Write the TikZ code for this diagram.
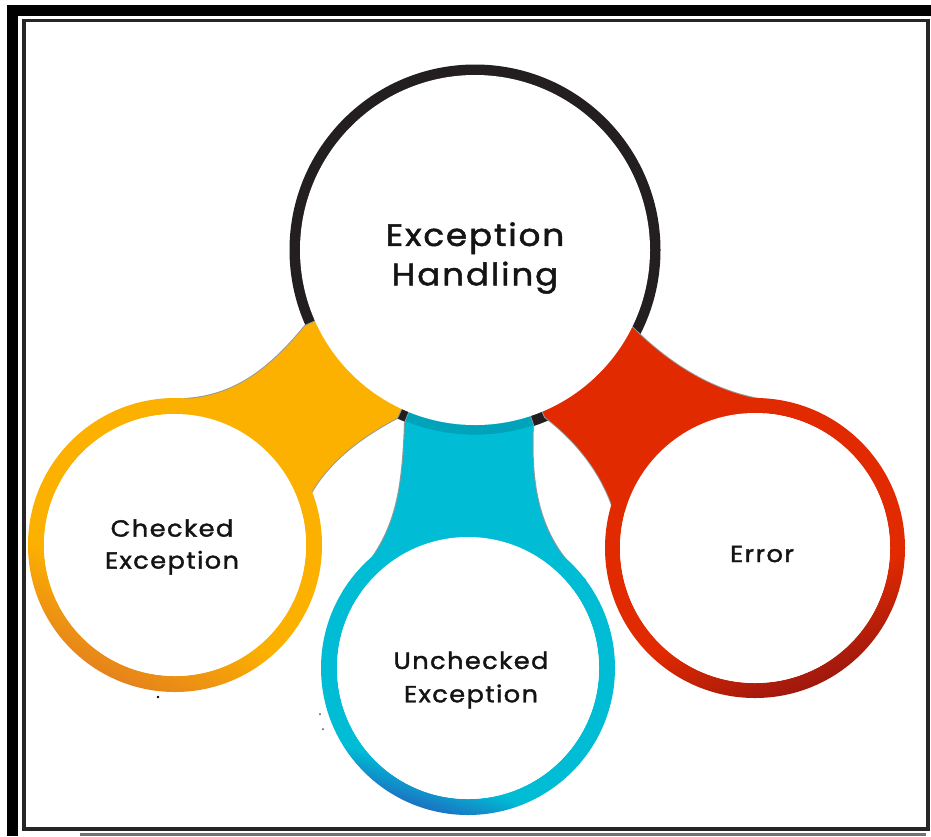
\documentclass[tikz,border=0pt]{standalone}
\usepackage{fontspec}
\setmainfont{Poppins}
\newfontfamily\lblfont{Poppins}[LetterSpace=6, FakeStretch=1.1, FakeBold=1.6]

\definecolor{ringdark}{HTML}{231F20}
\definecolor{ambr}{HTML}{FCB000}
\definecolor{ambrdeep}{HTML}{E5831C}
\definecolor{cyanc}{HTML}{00BCD4}
\definecolor{cyandeep}{HTML}{1C72C2}
\definecolor{cyanshade}{HTML}{00A3B9}
\definecolor{redc}{HTML}{E12A00}
\definecolor{reddeep}{HTML}{9E180E}

% ring gradients: flat colour on most of the ring, darker towards one edge
\pgfdeclareverticalshading{ambrring}{100bp}{color(0bp)=(ambrdeep); color(25bp)=(ambrdeep);
  color(40bp)=(ambr); color(100bp)=(ambr)}
\pgfdeclareverticalshading{cyanring}{100bp}{color(0bp)=(cyandeep); color(25bp)=(cyandeep);
  color(31bp)=(cyanc); color(100bp)=(cyanc)}
\pgfdeclareverticalshading{redring}{100bp}{color(0bp)=(reddeep); color(25bp)=(reddeep);
  color(40bp)=(redc); color(100bp)=(redc)}

\begin{document}
\begin{tikzpicture}[x=0.75pt,y=-0.75pt,
  halo/.style={preaction={draw=black!40, line width=1.5pt}},
  lbl/.style={align=center, text=black!92, inner sep=0pt}]
\useasboundingbox (0,0) rectangle (931,836);
\fill[white] (0,0) rectangle (931,836);

% frame: heavy black band on top and left, thin inner rule
\fill[black] (7,5) rectangle (931,16);
\fill[black] (7,5) rectangle (18,836);
\draw[black!85, line width=2.6pt] (24,20.5) rectangle (928,829);
\draw[black!55, line width=2pt] (80,834.5) -- (926,834.5);

% centres of the four discs
\coordinate (M) at (475,250);
\coordinate (C) at (175,545);
\coordinate (U) at (468,668);
\coordinate (E) at (755,548);

% main ring
\fill[ringdark] (M) circle (185.5);

% connectors
\path[fill=ambr, halo] (305,326) .. controls (265,375) and (230,396) .. (185,399)
  -- (C) -- (303,510) .. controls (318,470) and (355,440) .. (397,418) -- (M) -- cycle;
\path[fill=cyanc, halo] (405,423) .. controls (402,500) and (395,540) .. (345,590)
  -- (U) -- (585,580) .. controls (540,540) and (530,490) .. (533,425) -- (M) -- cycle;
\begin{scope}
  \clip (405,423) .. controls (402,500) and (395,540) .. (345,590)
  -- (U) -- (585,580) .. controls (540,540) and (530,490) .. (533,425) -- (M) -- cycle;
  \draw[cyanshade, line width=7pt] (M) circle (180);
\end{scope}
\path[fill=redc, halo] (633,328) .. controls (665,360) and (710,392) .. (765,400)
  -- (E) -- (613,508) .. controls (600,470) and (575,440) .. (545,417) -- (M) -- cycle;

% main disc
\fill[white] (M) circle (175);

% child rings
\shade[shading=ambrring, shading angle=-25, even odd rule]
  (C) circle (147) (C) circle (131);
\fill[white] (C) circle (131);
\shade[shading=cyanring, shading angle=-18, even odd rule]
  (U) circle (147) (U) circle (131);
\fill[white] (U) circle (131);
\shade[shading=redring, shading angle=22, even odd rule]
  (E) circle (150) (E) circle (135);
\fill[white] (E) circle (135);

% stray specks
\fill[black] (158,697) circle (1.3);
\fill[black!70] (320,714) circle (1);
\fill[black!70] (323,729) circle (1);

% labels
\node[lbl, font=\lblfont\fontsize{23.3}{29.5}\selectfont] (root) at (475,258) {Exception\\Handling};
\node[lbl, font=\lblfont\fontsize{17.5}{24}\selectfont] (chk) at (172,547) {Checked\\Exception};
\node[lbl, font=\lblfont\fontsize{17.5}{25}\selectfont] (unchk) at (471,680) {Unchecked\\Exception};
\node[lbl, font=\lblfont\fontsize{17.5}{24}\selectfont] (err) at (762,554) {Error};
\end{tikzpicture}
\end{document}
